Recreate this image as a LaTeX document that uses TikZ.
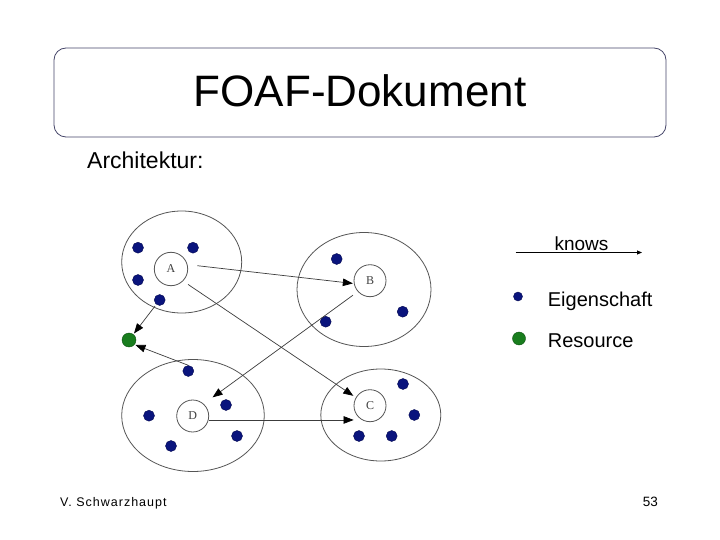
\documentclass[tikz,border=0pt]{standalone}
\usepackage{fontspec}
\setmainfont{Liberation Sans}
\newfontfamily\lblfont{Liberation Serif}
\usetikzlibrary{shapes.geometric,arrows.meta}
\definecolor{dotblue}{RGB}{10,20,125}
\definecolor{dotblueline}{RGB}{5,10,80}
\definecolor{dotgreen}{RGB}{25,125,30}
\definecolor{dotgreenline}{RGB}{10,80,15}
\definecolor{boxline}{RGB}{70,70,105}
\definecolor{ringgray}{RGB}{85,85,85}
\definecolor{linegray}{RGB}{60,60,60}
\begin{document}
\begin{tikzpicture}[x=1pt,y=-1pt,
  bigring/.style={draw=ringgray, line width=0.8pt, ellipse, inner sep=0pt},
  smallring/.style={draw=ringgray, line width=0.8pt, circle, inner sep=0pt, minimum size=32pt, font=\lblfont\fontsize{12}{13}\selectfont, text=black!75},
  bluedot/.style={circle, fill=dotblue, draw=dotblueline, line width=0.4pt, inner sep=0pt, minimum size=11pt},
  greendot/.style={circle, fill=dotgreen, draw=dotgreenline, line width=0.4pt, inner sep=0pt, minimum size=14pt},
  conn/.style={draw=linegray, line width=0.7pt, -{Triangle[length=10pt,width=7.5pt,color=black]}},
  txt/.style={inner sep=0pt, text=black}
]
\useasboundingbox (0,0) rectangle (720,540);
\fill[white] (0,0) rectangle (720,540);

% title
\node[draw=boxline, line width=0.8pt, rounded corners=12pt, minimum width=612pt, minimum height=89pt, inner sep=0pt] (tbox) at (360,92.5) {};
\node[txt, anchor=base] (ttl) at (360,106.7) {\fontsize{44}{50}\selectfont FOAF-Dokument};
\node[txt, anchor=base west] (arch) at (87,168.3) {\fontsize{23}{26}\selectfont Architektur:};

% big rings
\node[bigring, minimum width=120pt, minimum height=102pt] (EA) at (181.7,262) {};
\node[bigring, minimum width=134pt, minimum height=114pt] (EB) at (364,289.5) {};
\node[bigring, minimum width=142.6pt, minimum height=112pt] (ED) at (193,415.5) {};
\node[bigring, minimum width=120pt, minimum height=92pt] (EC) at (380.8,415) {};

% small rings
\node[smallring, minimum size=33.4pt] (A) at (171,269) {A};
\node[smallring] (B) at (370,280.7) {B};
\node[smallring] (C) at (370,405.7) {C};
\node[smallring] (D) at (192.7,416) {D};

% dots A
\node[bluedot] (a1) at (138,247.7) {};
\node[bluedot] (a2) at (193,247.7) {};
\node[bluedot] (a3) at (138,280) {};
\node[bluedot] (a4) at (159.7,300) {};
% dots B
\node[bluedot] (b1) at (336.7,259) {};
\node[bluedot] (b2) at (402.7,311.7) {};
\node[bluedot] (b3) at (325.7,321.7) {};
% dots D
\node[bluedot] (d1) at (188.3,371) {};
\node[bluedot] (d2) at (226,405) {};
\node[bluedot] (d3) at (149,415.7) {};
\node[bluedot] (d4) at (237,436) {};
\node[bluedot] (d5) at (171,446) {};
% dots C
\node[bluedot] (c1) at (403,384) {};
\node[bluedot] (c2) at (414.3,415) {};
\node[bluedot] (c3) at (359,436) {};
\node[bluedot] (c4) at (391.7,436) {};
% resource
\node[greendot] (G) at (129,340) {};

% connectors
\draw[conn, shorten <=10pt, shorten >=1pt] (A.15) -- (B.190);
\draw[conn, shorten <=6pt, shorten >=3pt] (A.-45) -- (C.150);
\draw[conn, shorten <=6pt, shorten >=11pt] (B.222) -- (D.48);
\draw[conn] (D.-14) -- (D.-14 -| C.west);
\draw[conn, shorten <=2pt, shorten >=1pt] (a4) -- (G);
\draw[conn, shorten >=1pt] (d1.north) -- (G.-40);

% legend
\coordinate (k1) at (515.7,252.5);
\coordinate (k2) at (642,252.5);
\draw[black, line width=1pt, -{Triangle[length=5pt,width=4pt]}] (k1) -- (k2);
\node[txt, anchor=base] (kn) at (581.5,250) {\fontsize{19}{22}\selectfont knows};
\node[bluedot, minimum size=9pt] (le) at (518,296.5) {};
\node[txt, anchor=base west] (let) at (547.7,306) {\fontsize{20}{24}\selectfont Eigenschaft};
\node[greendot, minimum size=13pt] (lr) at (519,338.5) {};
\node[txt, anchor=base west] (lrt) at (547.7,347) {\fontsize{20}{24}\selectfont Resource};

% footer
\node[txt, anchor=base west] (auth) at (60,506.7) {\fontsize{12.5}{14}\selectfont\addfontfeature{LetterSpace=8}V. Schwarzhaupt};
\node[txt, anchor=base east] (pg) at (658,506.7) {\fontsize{13.5}{15}\selectfont 53};
\end{tikzpicture}
\end{document}
